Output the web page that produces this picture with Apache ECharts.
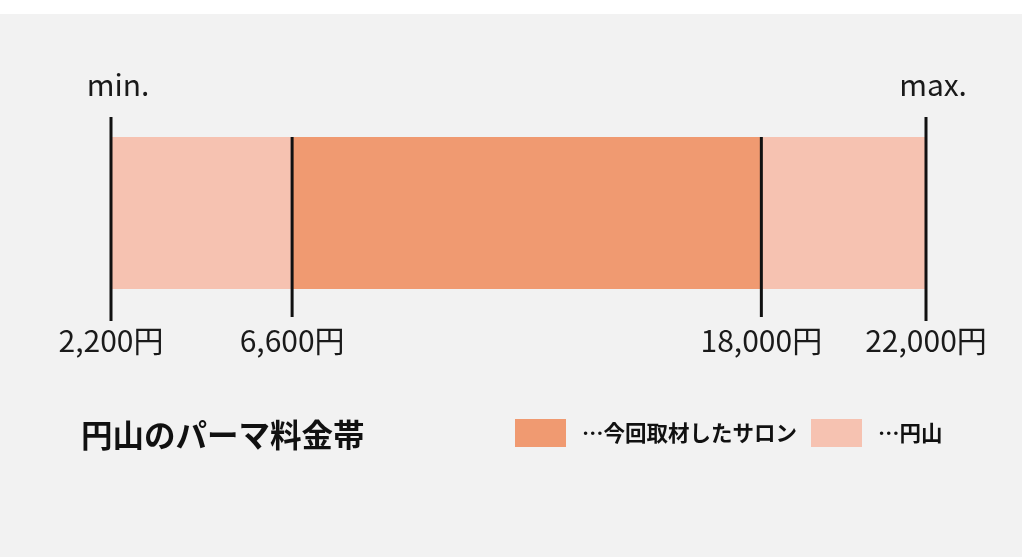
<!DOCTYPE html>
<html>
<head>
<meta charset="utf-8">
<script src="https://cdn.jsdelivr.net/npm/echarts@6/dist/echarts.min.js"></script>
<style>
  html, body { margin: 0; padding: 0; background: #ffffff; }
  #chart { width: 1024px; height: 557px; }
</style>
</head>
<body>
<div id="chart"></div>
<script>
// ---- data ----
const categories = ['パーマ料金'];
const seriesNames = ['…今回取材したサロン', '…円山'];
const maruyamaRange = [2200, 22000];   // 円山 min / max
const salonRange = [6600, 18000];      // 今回取材したサロン
const tickValues = [2200, 6600, 18000, 22000];
const tickLabels = ['2,200円', '6,600円', '18,000円', '22,000円'];
const endLabels = ['min.', '', '', 'max.'];
const titleText = '円山のパーマ料金帯';

const FONT = '"Noto Sans CJK JP", "Noto Sans", sans-serif';
const DARK = '#f09a71';
const LIGHT = '#f6c2b1';

const chart = echarts.init(document.getElementById('chart'));

function rangeRender(params, api) {
  const start = api.coord([api.value(0), api.value(2)]);
  const end = api.coord([api.value(1), api.value(2)]);
  const h = api.size([0, 1])[1];
  return {
    type: 'rect',
    shape: { x: start[0], y: start[1] - h / 2, width: end[0] - start[0], height: h },
    style: { fill: api.visual('color') }
  };
}

function tickRender(params, api) {
  const idx = params.dataIndex;
  const p = api.coord([api.value(0), 0]);
  const h = api.size([0, 1])[1];
  const top = p[1] - h / 2;
  const bottom = p[1] + h / 2;
  const isEnd = endLabels[idx] !== '';
  const children = [{
    type: 'line',
    shape: { x1: p[0], y1: top - (isEnd ? 20 : 0), x2: p[0], y2: bottom + (isEnd ? 32 : 28) },
    style: { stroke: '#111111', lineWidth: 3 }
  }, {
    type: 'text',
    style: {
      x: p[0], y: bottom + 52,
      text: tickLabels[idx],
      fill: '#1a1a1a', font: 'normal 30px ' + FONT,
      align: 'center', verticalAlign: 'middle'
    }
  }];
  if (isEnd) {
    children.push({
      type: 'text',
      style: {
        x: p[0] + 7, y: top - 52,
        text: endLabels[idx],
        fill: '#1a1a1a', font: 'normal 30px ' + FONT,
        align: 'center', verticalAlign: 'middle'
      }
    });
  }
  return { type: 'group', children: children };
}

chart.setOption({
  backgroundColor: '#ffffff',
  animation: false,
  graphic: [{
    type: 'rect', z: -10, silent: true,
    shape: { x: 0, y: 14, width: 1022, height: 543 },
    style: { fill: '#f2f2f2' }
  }],
  title: {
    text: titleText,
    left: 81, top: 419, padding: 0,
    textStyle: { fontSize: 31.5, fontWeight: 'bold', color: '#111111', fontFamily: FONT }
  },
  legend: {
    data: seriesNames.map((n, i) => ({ name: n, icon: 'rect', itemStyle: { color: i === 0 ? DARK : LIGHT } })),
    left: 515, top: 419, padding: 0,
    itemWidth: 51, itemHeight: 28, itemGap: 14,
    selectedMode: false,
    textStyle: { fontSize: 21.5, fontWeight: 'bold', color: '#111111', fontFamily: FONT, padding: [0, 0, 0, 11] }
  },
  grid: { left: 111, right: 98, top: 137, height: 152 },
  xAxis: { type: 'value', min: maruyamaRange[0], max: maruyamaRange[1], show: false },
  yAxis: { type: 'category', data: categories, show: false },
  series: [{
    name: seriesNames[1], type: 'custom',
    itemStyle: { color: LIGHT },
    renderItem: rangeRender,
    encode: { x: [0, 1], y: 2 },
    data: [[maruyamaRange[0], maruyamaRange[1], 0]], z: 1
  }, {
    name: seriesNames[0], type: 'custom',
    itemStyle: { color: DARK },
    renderItem: rangeRender,
    encode: { x: [0, 1], y: 2 },
    data: [[salonRange[0], salonRange[1], 0]], z: 2
  }, {
    name: 'ticks', type: 'custom',
    renderItem: tickRender,
    encode: { x: 0, y: 1 },
    data: tickValues.map(v => [v, 0]), z: 3
  }]
});
</script>
</body>
</html>
